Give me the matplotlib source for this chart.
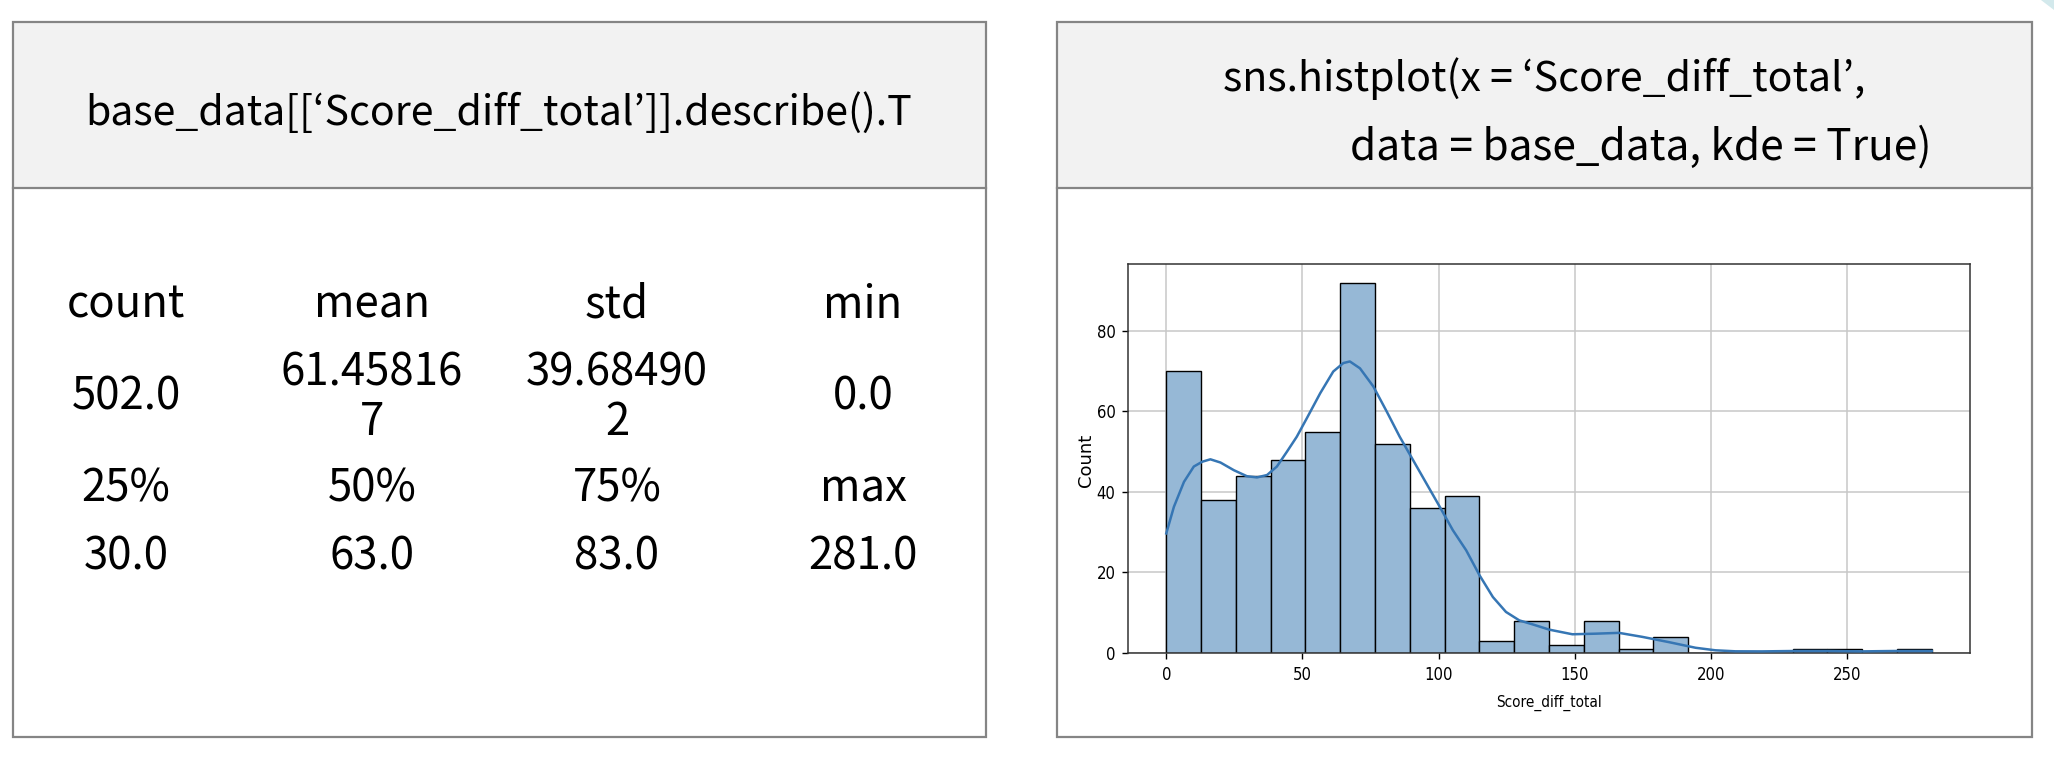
"""
describe() summary + histplot of Score_diff_total, slide layout
"""
import matplotlib
matplotlib.use('Agg')
import matplotlib.pyplot as plt
import numpy as np
from matplotlib.patches import Rectangle, Polygon

# describe().T output, as shown on the slide
stat_top = ['count', 'mean', 'std', 'min']
val_top = ['502.0', '61.45816\n7', '39.68490\n2', '0.0']
stat_bottom = ['25%', '50%', '75%', 'max']
val_bottom = ['30.0', '63.0', '83.0', '281.0']

# histogram: 22 bins from 0 to 281
bin_lo, bin_hi, n_bins = 0, 281, 22
counts = [70, 38, 44, 48, 55, 92, 52, 36, 39, 3, 8,
          2, 8, 1, 4, 0, 0, 0, 1, 1, 0, 1]

# kde curve (in counts)
kde_x = [0, 2.8, 6.5, 10.1, 13.2, 16.2, 19.9, 24.8, 29.6, 33.3, 37, 40.6,
         44.3, 47.9, 51.6, 56.5, 61.3, 65, 67.4, 71.1, 76, 80.9, 85.7, 90.6,
         95.5, 100.4, 105.2, 110.1, 115, 119.9, 124.7, 129.6, 135, 140.6,
         149.1, 157.7, 166.2, 174.8, 184.5, 194.3, 201.6, 208.9, 218.7,
         230.9, 243, 255.3, 267.5, 281]
kde_y = [29.7, 36.3, 42.5, 46.3, 47.5, 48.1, 47.3, 45.4, 43.9, 43.6, 44.2, 46.3,
         50, 53.7, 58.3, 64.5, 69.9, 72, 72.4, 70.7, 66.2, 60, 53.7, 47.9,
         42.1, 36.3, 30.5, 25.5, 19.3, 13.9, 10.2, 8.1, 7.0, 5.8,
         4.65, 4.8, 5.0, 4.0, 2.7, 1.3, 0.67, 0.42, 0.4,
         0.5, 0.5, 0.4, 0.5, 0.5]

xticks = [0, 50, 100, 150, 200, 250]
yticks = [0, 20, 40, 60, 80]

head_left = 'base_data[[\u2018Score_diff_total\u2019]].describe().T'
head_right1 = 'sns.histplot(x = \u2018Score_diff_total\u2019,'
head_right2 = 'data = base_data, kde = True)'

slide_font = ['Noto Sans CJK KR', 'DejaVu Sans']
plot_font = ['DejaVu Sans']

W, H = 2054, 764
fig = plt.figure(figsize=(W / 100, H / 100), dpi=100)

# slide canvas in pixel coords
bg = fig.add_axes([0, 0, 1, 1])
bg.set_xlim(0, W)
bg.set_ylim(H, 0)
bg.axis('off')

border = '#858585'
for x0, x1 in [(13, 986), (1057, 2032)]:
    bg.add_patch(Rectangle((x0, 22), x1 - x0, 188 - 22, fc='#f2f2f2', ec='none'))
    bg.add_patch(Rectangle((x0, 22), x1 - x0, 737 - 22, fc='none', ec=border, lw=1.6))
    bg.plot([x0, x1], [188, 188], color=border, lw=1.6)

# bit of slide decoration in the corner
bg.add_patch(Polygon([(2041, 0), (2054, 0), (2054, 10)], closed=True,
                     fc='#d3e9ec', ec='none'))

bg.text(499, 113, head_left, ha='center', va='center', fontsize=29.6, family=slide_font)
bg.text(1544, 79, head_right1, ha='center', va='center', fontsize=29.6, family=slide_font)
bg.text(1350, 148, head_right2, ha='left', va='center', fontsize=30.5, family=slide_font)

col_x = [126, 372, 617, 863]
for i, cx in enumerate(col_x):
    bg.text(cx, 305, stat_top[i], ha='center', va='center', fontsize=31.5, family=slide_font)
    bg.text(cx, 397, val_top[i], ha='center', va='center', fontsize=31.5,
            family=slide_font, linespacing=1.1)
    bg.text(cx, 489, stat_bottom[i], ha='center', va='center', fontsize=31.5, family=slide_font)
    bg.text(cx, 557, val_bottom[i], ha='center', va='center', fontsize=31.5, family=slide_font)

# histogram
ax = fig.add_axes([1128 / W, 1 - 653 / H, (1970 - 1128) / W, (653 - 264) / H])
edges = np.linspace(bin_lo, bin_hi, n_bins + 1)
ax.bar(edges[:-1], counts, width=np.diff(edges), align='edge',
       color='#96b8d6', edgecolor='black', linewidth=1.0, zorder=2)
ax.plot(kde_x, kde_y, color='#3676b4', lw=1.8, zorder=3)

pad = 0.05 * (bin_hi - bin_lo)
ax.set_xlim(bin_lo - pad, bin_hi + pad)
ax.set_ylim(0, max(counts) * 1.05)
ax.set_xticks(xticks)
ax.set_yticks(yticks)
ax.grid(True, color='#c8c8c8', lw=1.1)
ax.set_axisbelow(True)
for s in ax.spines.values():
    s.set_color('#333333')
    s.set_linewidth(1.1)
ax.tick_params(length=4, width=1, labelsize=12, pad=5)
for lab in ax.get_xticklabels() + ax.get_yticklabels():
    lab.set_family(plot_font)
    lab.set_fontstretch('condensed')
ax.set_xlabel('Score_diff_total', fontsize=11, family=plot_font,
              fontstretch='condensed', labelpad=8)
ax.set_ylabel('Count', fontsize=13, family=plot_font)
ax.yaxis.set_label_coords(-0.039, 0.494)

fig.savefig('out.png', dpi=100)
